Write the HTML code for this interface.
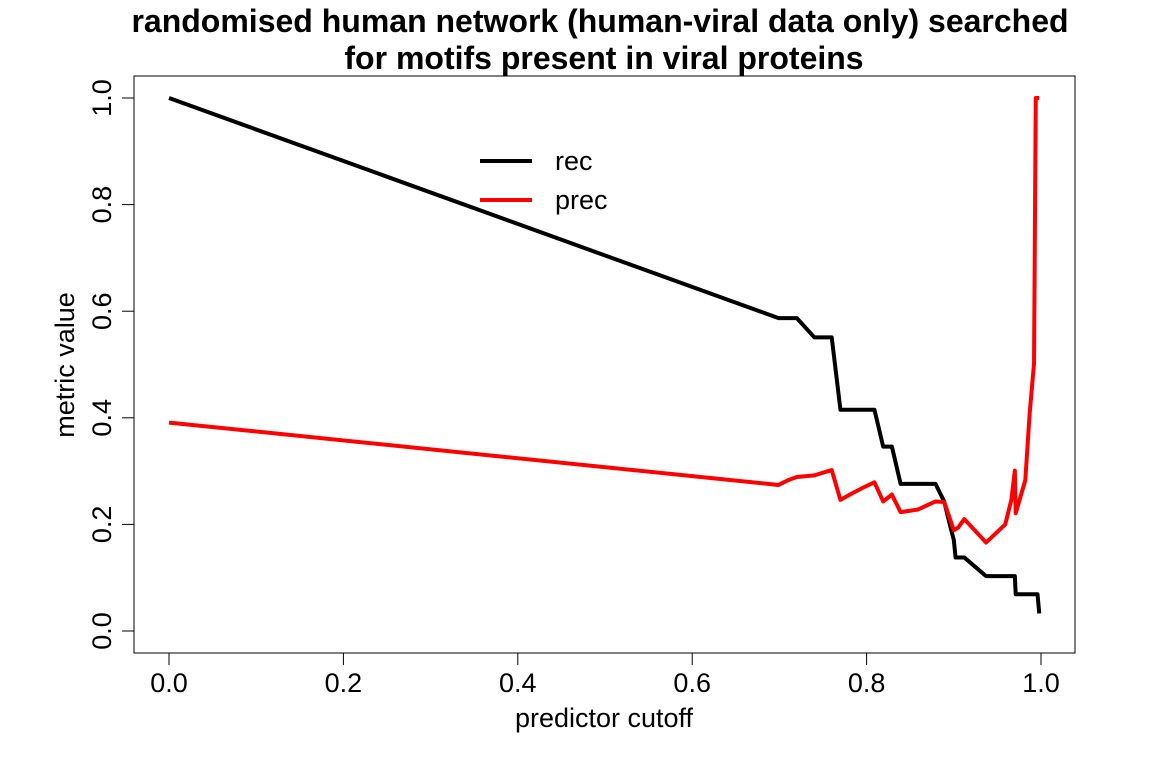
<!DOCTYPE html>
<html><head><meta charset="utf-8"><style>
html,body{margin:0;padding:0;background:#fff;}
svg{display:block;font-family:"Liberation Sans",Arial,sans-serif;}
</style></head><body>
<svg id="chart" width="1152" height="768" viewBox="0 0 1152 768" xmlns="http://www.w3.org/2000/svg">
<text x="600" y="32" text-anchor="middle" font-size="32" font-weight="bold">randomised human network (human-viral data only) searched</text>
<text x="604" y="69" text-anchor="middle" font-size="32" font-weight="bold">for motifs present in viral proteins</text>
<rect x="134" y="76" width="941" height="577" fill="none" stroke="#000" stroke-width="1"/>
<g id="xaxis"></g>
<g id="yaxis"></g>
<text x="604" y="727" text-anchor="middle" font-size="27">predictor cutoff</text>
<text transform="translate(74,365) rotate(-90)" text-anchor="middle" font-size="27">metric value</text>
<g id="series"></g>
<g>
<line x1="480" y1="161" x2="532" y2="161" stroke="#000" stroke-width="4"/>
<text x="555" y="170" font-size="27">rec</text>
<line x1="480" y1="200" x2="532" y2="200" stroke="#f00" stroke-width="4"/>
<text x="555" y="209" font-size="27">prec</text>
</g>
</svg>
<script>
const xTicks=[0,0.2,0.4,0.6,0.8,1.0];
const xTickLabels=["0.0","0.2","0.4","0.6","0.8","1.0"];
const yTicks=[0,0.2,0.4,0.6,0.8,1.0];
const yTickLabels=["0.0","0.2","0.4","0.6","0.8","1.0"];
const recX=[0,0.699,0.72,0.74,0.76,0.77,0.809,0.819,0.829,0.839,0.879,0.889,0.896,0.9,0.902,0.912,0.937,0.970,0.971,0.996,0.998];
const recY=[1.0,0.587,0.587,0.551,0.551,0.415,0.415,0.346,0.346,0.276,0.276,0.243,0.196,0.171,0.138,0.138,0.103,0.103,0.069,0.069,0.033];
const precX=[0,0.699,0.710,0.72,0.74,0.76,0.77,0.781,0.796,0.809,0.819,0.829,0.839,0.859,0.879,0.889,0.90,0.905,0.912,0.937,0.959,0.966,0.970,0.971,0.982,0.987,0.992,0.994,0.998];
const precY=[0.391,0.274,0.283,0.289,0.292,0.302,0.246,0.256,0.269,0.279,0.243,0.256,0.223,0.228,0.243,0.242,0.189,0.194,0.210,0.166,0.200,0.246,0.301,0.221,0.283,0.408,0.502,1.0,1.0];
const NS="http://www.w3.org/2000/svg";
const sx=v=>169+v*872;
const sy=v=>631-v*533;
function mk(t,a,p){const e=document.createElementNS(NS,t);for(const k in a)e.setAttribute(k,a[k]);p.appendChild(e);return e;}
const xa=document.getElementById('xaxis');
const l1=mk('line',{x1:sx(0),x2:sx(1),y1:653,y2:653,stroke:'#000'},xa);


xTicks.forEach((v,i)=>{
 const t=mk('line',{x1:sx(v),x2:sx(v),y1:653,y2:665,stroke:'#000'},xa);
 
 
 const tx=mk('text',{x:sx(v),y:692,'text-anchor':'middle','font-size':'27'},xa);
 
 
 tx.textContent=xTickLabels[i];
});
const ya=document.getElementById('yaxis');
const l2=mk('line',{x1:134,x2:134,y1:sy(0),y2:sy(1),stroke:'#000'},ya);


yTicks.forEach((v,i)=>{
 const t=mk('line',{x1:122,x2:134,y1:sy(v),y2:sy(v),stroke:'#000'},ya);
 
 
 const tx=mk('text',{transform:`translate(111,${sy(v)}) rotate(-90)`,'text-anchor':'middle','font-size':'27'},ya);
 
 
 tx.textContent=yTickLabels[i];
});
const sg=document.getElementById('series');
function line(xs,ys,col,name){
 const p=mk('polyline',{points:xs.map((x,i)=>sx(x)+','+sy(ys[i])).join(' '),fill:'none',stroke:col,'stroke-width':'4','stroke-linejoin':'round'},sg);
 
 
}
line(recX,recY,'#000','rec-line');
line(precX,precY,'#f00','prec-line');
</script>
</body></html>
